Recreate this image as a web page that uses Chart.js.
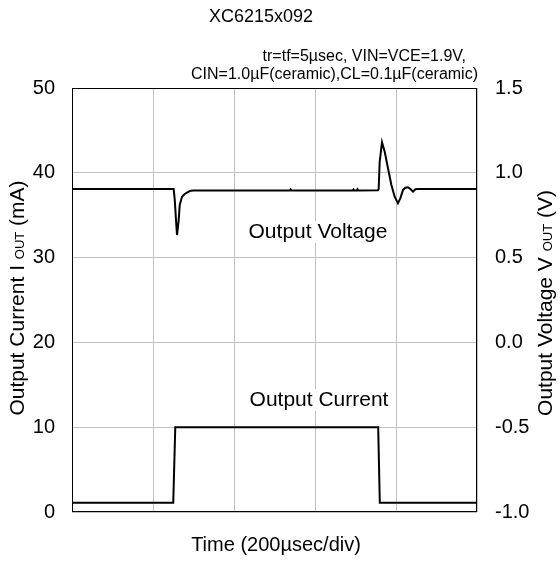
<!DOCTYPE html>
<html>
<head>
<meta charset="utf-8">
<script src="https://cdn.jsdelivr.net/npm/chart.js@4.4.1/dist/chart.umd.min.js"></script>
<style>
  body { margin: 0; background: #fff; }
  canvas { display: block; }
</style>
</head>
<body>
<canvas id="chart1" width="560" height="563"></canvas>
<script>
// XC6215x092 load transient

// time in usec (200usec/div, 5 div)
const timeCurrent = [0, 250, 255, 756, 760, 1000];
const currentMA = [1.1, 1.1, 10, 10, 1.1, 1.1];

const timeVoltage = [0, 251, 253.6, 257.7, 259.3, 263.5, 266, 271.6, 278.3, 288, 293, 300, 538, 540, 542, 693, 695, 697, 703, 705, 707, 755.5, 757.2, 759.7, 765.4, 772.1, 780.2, 788.6, 796.7, 804.9, 810.8, 817.3, 823.2, 829.6, 835.6, 841.9, 847.9, 852, 1000];
const voltageV = [0.904, 0.904, 0.845, 0.688, 0.633, 0.722, 0.81, 0.859, 0.875, 0.889, 0.894, 0.895, 0.895, 0.902, 0.895, 0.895, 0.902, 0.895, 0.895, 0.903, 0.895, 0.897, 0.904, 1.065, 1.180, 1.124, 1.027, 0.928, 0.859, 0.820, 0.850, 0.899, 0.912, 0.915, 0.904, 0.889, 0.903, 0.904, 0.904];

const currentTicks = [0, 10, 20, 30, 40, 50];
const voltageTicks = [-1.0, -0.5, 0.0, 0.5, 1.0, 1.5];

const chartTitle = "XC6215x092";
const conditions = ["tr=tf=5µsec, VIN=VCE=1.9V,", "CIN=1.0µF(ceramic),CL=0.1µF(ceramic)"];

function toPoints(xs, ys) {
    let data = [];
    for (let i = 0; i < xs.length; i++) {
        data.push({ x: xs[i], y: ys[i] });
    }
    return data;
}

const FONT = "'Liberation Sans', Arial, sans-serif";

// draw a rotated title with a small "OUT" part
function drawSubTitle(ctx, cx, cy, parts) {
    let total = 0;
    parts.forEach(function (p) {
        ctx.font = p[1] + "px " + FONT;
        p.push(ctx.measureText(p[0]).width);
        total += p[2];
    });
    ctx.save();
    ctx.translate(cx, cy);
    ctx.rotate(-Math.PI / 2);
    ctx.textBaseline = "alphabetic";
    ctx.textAlign = "left";
    let x = -total / 2;
    parts.forEach(function (p) {
        ctx.font = p[1] + "px " + FONT;
        ctx.fillText(p[0], x, 7);
        x += p[2];
    });
    ctx.restore();
}

const annotate = {
    id: "annotate",
    beforeDatasetsDraw(chart) {
        const ctx = chart.ctx;
        ctx.save();
        ctx.font = "21px " + FONT;
        ctx.textAlign = "center";
        ctx.textBaseline = "middle";
        [["Output Voltage", 318, 232], ["Output Current", 319, 400]].forEach(function (l) {
            let w = ctx.measureText(l[0]).width;
            ctx.fillStyle = "#fff";
            ctx.fillRect(l[1] - w / 2 - 4, l[2] - 11, w + 8, 22);
            ctx.fillStyle = "#000";
            ctx.fillText(l[0], l[1], l[2]);
        });
        ctx.restore();
    },
    afterDraw(chart) {
        const ctx = chart.ctx;
        const a = chart.chartArea;
        ctx.save();
        ctx.strokeStyle = "#000";
        ctx.lineWidth = 1;
        ctx.strokeRect(a.left + 0.5, a.top + 0.5, a.right - a.left - 1, a.bottom - a.top - 1);

        ctx.fillStyle = "#000";
        ctx.textBaseline = "middle";
        ctx.textAlign = "center";
        ctx.font = "18px " + FONT;
        ctx.fillText(chartTitle, 261, 17);

        ctx.textAlign = "right";
        ctx.font = "16px " + FONT;
        ctx.fillText(conditions[0], 466, 57);
        ctx.fillText(conditions[1], 478, 75);

        ctx.textAlign = "center";
        ctx.font = "20px " + FONT;
        ctx.fillText("Time (200µsec/div)", 276, 545);

        drawSubTitle(ctx, 17, 298, [["Output Current I ", 21], ["OUT", 13], [" (mA)", 21]]);
        drawSubTitle(ctx, 545, 303, [["Output Voltage V ", 21], ["OUT", 13], [" (V)", 21]]);
        ctx.restore();
    }
};

const ctx1 = document.getElementById("chart1").getContext("2d");
new Chart(ctx1, {
    type: "line",
    data: {
        datasets: [{
            label: "Output Current",
            data: toPoints(timeCurrent, currentMA),
            yAxisID: "yI",
            borderColor: "#000",
            borderWidth: 2,
            pointRadius: 0,
            tension: 0,
            fill: false
        }, {
            label: "Output Voltage",
            data: toPoints(timeVoltage, voltageV),
            yAxisID: "yV",
            borderColor: "#000",
            borderWidth: 2,
            pointRadius: 0,
            tension: 0,
            fill: false
        }]
    },
    options: {
        responsive: false,
        animation: false,
        layout: { padding: { top: 88, bottom: 51, left: 0, right: 0 } },
        plugins: {
            legend: { display: false },
            tooltip: { enabled: false }
        },
        scales: {
            x: {
                type: "linear",
                min: 0,
                max: 1000,
                ticks: { display: false, stepSize: 200 },
                grid: { color: "#c0c0c0", drawTicks: false },
                border: { display: false },
                afterFit: function (s) { s.height = 0; }
            },
            yI: {
                type: "linear",
                position: "left",
                min: 0,
                max: 50,
                afterBuildTicks: function (s) { s.ticks = currentTicks.map(function (v) { return { value: v }; }); },
                ticks: {
                    color: "#000",
                    font: { size: 20, family: FONT },
                    padding: 17
                },
                grid: { color: "#c0c0c0", drawTicks: false },
                border: { display: false },
                afterFit: function (s) { s.width = 72; }
            },
            yV: {
                type: "linear",
                position: "right",
                min: -1.0,
                max: 1.5,
                afterBuildTicks: function (s) { s.ticks = voltageTicks.map(function (v) { return { value: v }; }); },
                ticks: {
                    color: "#000",
                    font: { size: 20, family: FONT },
                    padding: 18,
                    callback: function (v) { return v.toFixed(1); }
                },
                grid: { display: false, drawTicks: false },
                border: { display: false },
                afterFit: function (s) { s.width = 83; }
            }
        }
    },
    plugins: [annotate]
});
</script>
</body>
</html>
